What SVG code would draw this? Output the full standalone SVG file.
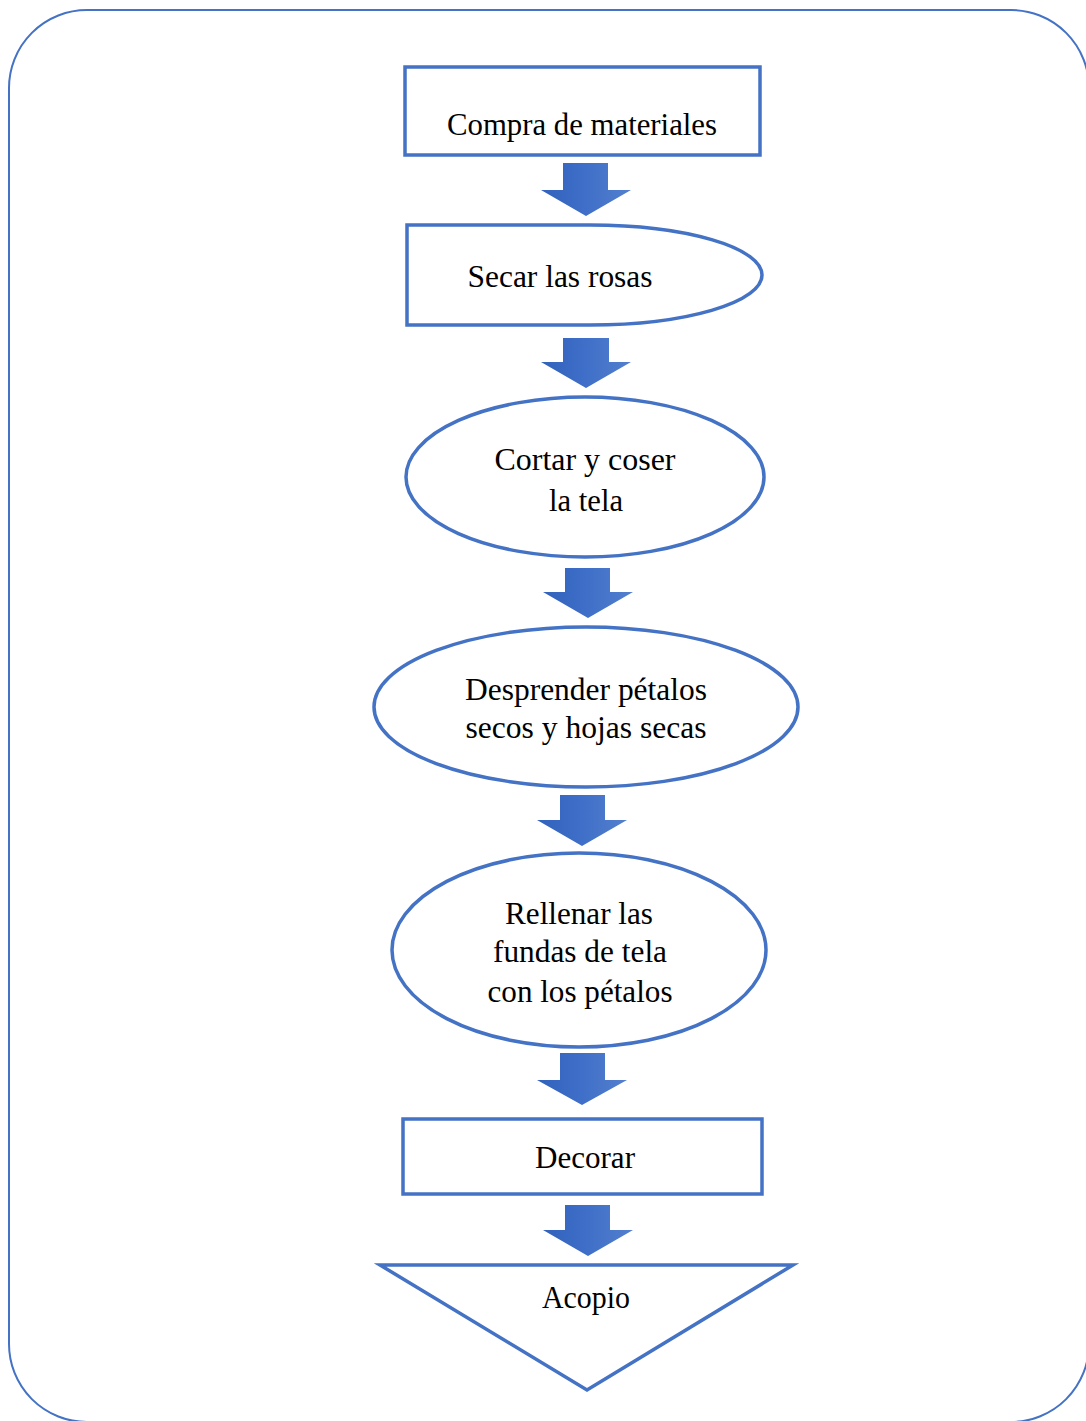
<svg xmlns="http://www.w3.org/2000/svg" width="1086" height="1421" viewBox="0 0 1086 1421">
<defs>
<linearGradient id="ag" x1="0" y1="0" x2="1" y2="0">
<stop offset="0" stop-color="#3162BC"/>
<stop offset="0.5" stop-color="#3F6FC8"/>
<stop offset="1" stop-color="#537FCD"/>
</linearGradient>
</defs>
<style>
.sh{fill:#fff;stroke:#4472C4;stroke-width:3.5}
.frame{fill:#fff;stroke:#4472C4;stroke-width:2}
.arr{fill:url(#ag)}
text{font-family:"Liberation Serif","Times New Roman",serif;font-size:32px;fill:#000;text-anchor:middle}
</style>
<rect class="frame" x="9" y="10" width="1080" height="1412" rx="78" ry="78"/>
<g id="connectors">
<polygon class="arr" points="563,163 608,163 608,190 631,190 586,216 541,190 563,190"/>
<polygon class="arr" points="563,338 609,338 609,362 631,362 586,388 541,362 563,362"/>
<polygon class="arr" points="565,568 610,568 610,592 633,592 588,618 543,592 565,592"/>
<polygon class="arr" points="560,795 605,795 605,820 627,820 582,846 537,820 560,820"/>
<polygon class="arr" points="560,1053 605,1053 605,1080 627,1080 582,1105 537,1080 560,1080"/>
<polygon class="arr" points="565,1205 610,1205 610,1230 633,1230 588,1256 543,1230 565,1230"/>
</g>
<g id="n1">
<rect class="sh" x="405" y="67" width="355" height="88"/>
<text x="582" y="135" textLength="270" lengthAdjust="spacingAndGlyphs">Compra de materiales</text>
</g>
<g id="n2">
<path class="sh" d="M407,225 H590 A172,50 0 0 1 590,325 H407 Z"/>
<text x="560" y="287" textLength="185" lengthAdjust="spacingAndGlyphs">Secar las rosas</text>
</g>
<g id="n3">
<ellipse class="sh" cx="585" cy="477" rx="179" ry="80"/>
<text x="585" y="470" textLength="181" lengthAdjust="spacingAndGlyphs">Cortar y coser</text>
<text x="586" y="511" textLength="74" lengthAdjust="spacingAndGlyphs">la tela</text>
</g>
<g id="n4">
<ellipse class="sh" cx="586" cy="707" rx="212" ry="80"/>
<text x="586" y="700" textLength="242" lengthAdjust="spacingAndGlyphs">Desprender pétalos</text>
<text x="586" y="738" textLength="241" lengthAdjust="spacingAndGlyphs">secos y hojas secas</text>
</g>
<g id="n5">
<ellipse class="sh" cx="579" cy="950" rx="187" ry="97"/>
<text x="579" y="924" textLength="148" lengthAdjust="spacingAndGlyphs">Rellenar las</text>
<text x="580" y="962" textLength="174" lengthAdjust="spacingAndGlyphs">fundas de tela</text>
<text x="580" y="1002" textLength="185" lengthAdjust="spacingAndGlyphs">con los pétalos</text>
</g>
<g id="n6">
<rect class="sh" x="403" y="1119" width="359" height="75"/>
<text x="585" y="1168" textLength="100" lengthAdjust="spacingAndGlyphs">Decorar</text>
</g>
<g id="n7">
<polygon class="sh" points="380,1265 793,1265 587,1390"/>
<text x="586" y="1308" textLength="88" lengthAdjust="spacingAndGlyphs">Acopio</text>
</g>
</svg>
